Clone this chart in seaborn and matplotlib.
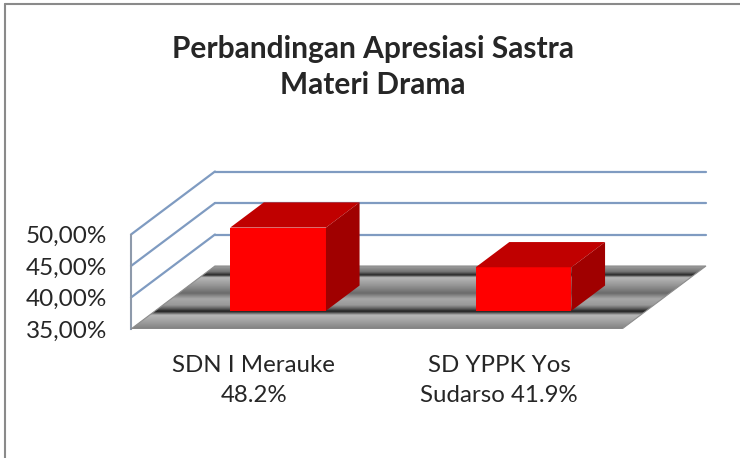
import numpy as np
import pandas as pd
import matplotlib
matplotlib.use("Agg")
import matplotlib.pyplot as plt
from matplotlib.patches import Polygon
from matplotlib.lines import Line2D
import seaborn as sns

# data
schools = ["SDN I Merauke", "SD YPPK Yos Sudarso"]
scores = [48.2, 41.9]
tick_names = ["SDN I Merauke\n48.2%", "SD YPPK Yos\nSudarso 41.9%"]
y_ticks = [35, 40, 45, 50]
y_tick_labels = ["35,00%", "40,00%", "45,00%", "50,00%"]
title = "Perbandingan Apresiasi Sastra\nMateri Drama"

# fake 3d: the depth axis goes up and to the right
DX, DV = 0.342, 10.0      # full floor depth in (category, value) units
BASE = 35
BAR_D0, BAR_D = 0.29, 0.40  # where the bar front sits, how deep the bar is

sns.set_style("white")
plt.rcParams["font.family"] = ["Lato", "DejaVu Sans"]

W, H = 740, 458
fig = plt.figure(figsize=(W / 100, H / 100), dpi=100)
ax = fig.add_axes([131 / W, (H - 329) / H, 577 / W, 157.5 / H])

df = pd.DataFrame({"school": schools, "score": scores})
sns.barplot(data=df, x="school", y="score", color="#ff0000", width=0.39,
            saturation=1, ax=ax)
bars = list(ax.patches)

x0c, x1c = -0.5, len(schools) - 0.5

# back wall gridlines and left wall diagonals
grid_c = "#7f9bc1"
for v in y_ticks[1:]:
    ax.plot([x0c + DX, x1c + DX], [v + DV, v + DV], color=grid_c, lw=1.6,
            clip_on=False, zorder=1)
    ax.plot([x0c, x0c + DX], [v, v + DV], color=grid_c, lw=1.6,
            clip_on=False, zorder=1)

# floor with a metallic banded gradient
floor = Polygon([(x0c, BASE), (x1c, BASE), (x1c + DX, BASE + DV), (x0c + DX, BASE + DV)],
                closed=True, fc="none", ec="#8c8c8c", lw=0.8, zorder=3)
ax.add_patch(floor)
stop_pos = [0.0, 0.09, 0.14, 0.18, 0.31, 0.43, 0.52, 0.62, 0.68, 0.72, 0.78, 0.89, 1.0]
stop_gray = [0.62, 0.45, 0.15, 0.72, 0.58, 0.42, 0.66, 0.60, 0.35, 0.12, 0.72, 0.62, 0.50]
shade = np.interp(np.linspace(0, 1, 300), stop_pos, stop_gray)
img = ax.imshow(shade[:, None], cmap="gray", vmin=0, vmax=1,
                extent=(x0c, x1c + DX, BASE, BASE + DV), aspect="auto",
                origin="upper", interpolation="bilinear", zorder=2)
img.set_clip_path(floor)

# push bars back onto the floor and give them top and side faces
ddx, ddv = BAR_D * DX, BAR_D * DV
for bar in bars:
    top = bar.get_height()
    xl = bar.get_x() + BAR_D0 * DX
    xr = xl + bar.get_width()
    yb = BASE + BAR_D0 * DV
    yt = top + BAR_D0 * DV
    bar.set_x(xl)
    bar.set_y(yb)
    bar.set_height(yt - yb)
    bar.set_edgecolor("none")
    bar.set_zorder(5)
    ax.add_patch(Polygon([(xl, yt), (xr, yt), (xr + ddx, yt + ddv), (xl + ddx, yt + ddv)],
                         fc="#c00000", ec="none", zorder=5))
    ax.add_patch(Polygon([(xr, yb), (xr, yt), (xr + ddx, yt + ddv), (xr + ddx, yb + ddv)],
                         fc="#a00000", ec="none", zorder=5))

ax.set_xlim(x0c, x0c + 577 / 245.5)
ax.set_ylim(35, 60)
ax.set_facecolor("none")
for s in ["top", "right", "bottom"]:
    ax.spines[s].set_visible(False)
ax.spines["left"].set_bounds(35, 50)
ax.spines["left"].set_color("#8e9aab")
ax.spines["left"].set_linewidth(1.5)

ax.set_yticks(y_ticks, y_tick_labels)
ax.set_xticks(range(len(schools)), tick_names)
ax.tick_params(axis="y", length=0, pad=17, labelsize=17.5)
ax.tick_params(axis="x", length=0, pad=19, labelsize=17.3)
for lab in ax.get_xticklabels():
    lab.set_linespacing(1.5)
ax.set_xlabel("")
ax.set_ylabel("")

fig.text(373 / W, 1 - 35 / H, title, ha="center", va="top", fontsize=21.5,
         fontweight="bold", linespacing=1.35)

# outer frame (only top and left visible in the crop)
fig.add_artist(Line2D([5 / W, 1], [1 - 4 / H, 1 - 4 / H], color="#8a8a8a", lw=1.5))
fig.add_artist(Line2D([5 / W, 5 / W], [0, 1 - 4 / H], color="#8a8a8a", lw=1.5))

fig.savefig("out.png", dpi=100)
